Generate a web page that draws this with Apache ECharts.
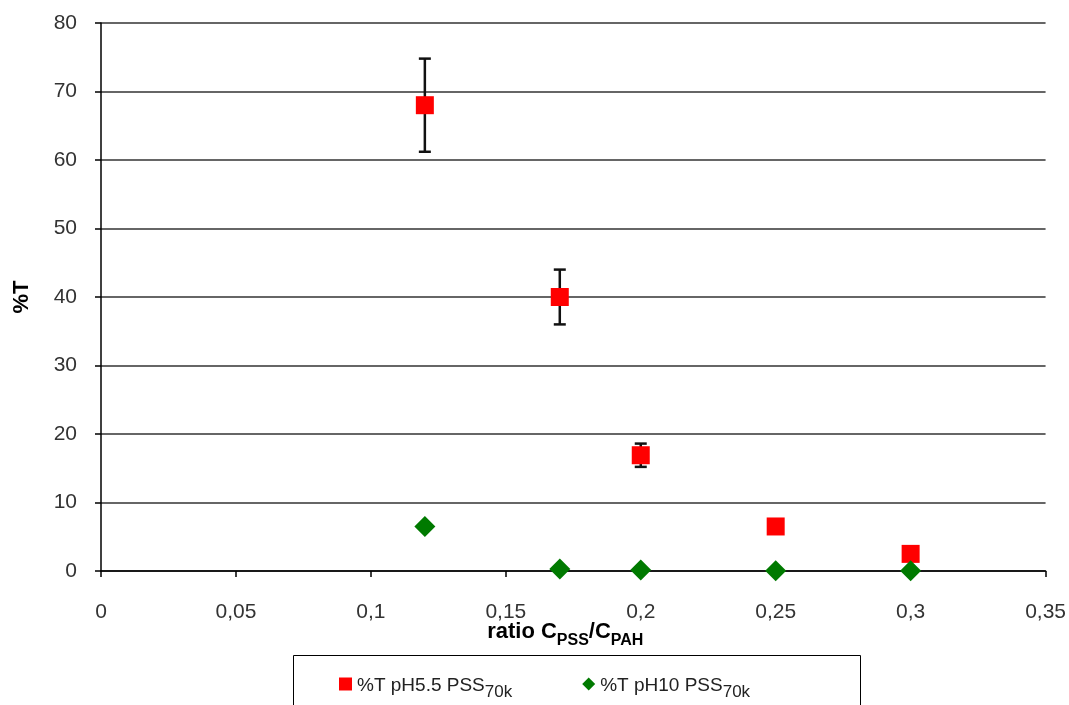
<!DOCTYPE html>
<html>
<head>
<meta charset="utf-8">
<script src="https://cdn.jsdelivr.net/npm/echarts@6/dist/echarts.min.js"></script>
<style>
    html, body { margin: 0; padding: 0; background: #fff; }
    #chart { width: 1069px; height: 705px; }
</style>
</head>
<body>
<div id="chart"></div>
<script>
// ratio C_PSS / C_PAH
var ratios = [0.12, 0.17, 0.2, 0.25, 0.3];
// %T pH5.5 PSS70k
var tAcid = [68, 40, 16.9, 6.5, 2.5];
var tAcidErr = [6.8, 4, 1.7, 0, 0];
// %T pH10 PSS70k
var tBase = [6.5, 0.3, 0.15, 0.05, 0.05];

var xTicks = { min: 0, max: 0.35, step: 0.05 };
var yTicks = { min: 0, max: 80, step: 10 };

var font = '"Liberation Sans", Arial, sans-serif';

function pairs(xs, ys) {
    return xs.map(function (x, i) { return [x, ys[i]]; });
}

var errData = ratios.map(function (x, i) {
    return [x, tAcid[i] - tAcidErr[i], tAcid[i] + tAcidErr[i]];
}).filter(function (d) { return d[2] > d[1]; });

var chart = echarts.init(document.getElementById('chart'));

chart.setOption({
    animation: false,
    textStyle: { fontFamily: font },
    grid: {
        left: 101,
        right: 23,
        top: 23,
        bottom: 134,
        containLabel: false
    },
    xAxis: {
        type: 'value',
        min: xTicks.min,
        max: xTicks.max,
        interval: xTicks.step,
        name: '{b|ratio C}{s|PSS}{b|/C}{s|PAH}',
        nameLocation: 'middle',
        nameGap: 48,
        nameMoveOverlap: false,
        nameTextStyle: {
            padding: [0, 16, 0, 0],
            rich: {
                b: { fontFamily: font, fontSize: 22, fontWeight: 'bold', color: '#000', lineHeight: 24, verticalAlign: 'bottom' },
                s: { fontFamily: font, fontSize: 16, fontWeight: 'bold', color: '#000', lineHeight: 24, verticalAlign: 'bottom', padding: [0, 0, -6, 0] }
            }
        },
        axisLine: { show: true, lineStyle: { color: '#000', width: 1.5 } },
        axisTick: { show: true, inside: false, length: 6, lineStyle: { color: '#000', width: 1.5 } },
        axisLabel: {
            margin: 31,
            fontSize: 21,
            color: '#333',
            fontFamily: font,
            formatter: function (v) { return String(+v.toFixed(2)).replace('.', ','); }
        },
        splitLine: { show: false }
    },
    yAxis: {
        type: 'value',
        min: yTicks.min,
        max: yTicks.max,
        interval: yTicks.step,
        name: '%T',
        nameLocation: 'middle',
        nameGap: 68,
        nameRotate: 90,
        nameTextStyle: { fontFamily: font, fontSize: 22, fontWeight: 'bold', color: '#000' },
        axisLine: { show: true, lineStyle: { color: '#000', width: 1.5 } },
        axisTick: { show: true, inside: false, length: 6, lineStyle: { color: '#000', width: 1.5 } },
        axisLabel: { margin: 24, fontSize: 21, color: '#333', fontFamily: font },
        splitLine: { show: true, lineStyle: { color: '#333', width: 1.5 } }
    },
    legend: {
        left: 339,
        top: 676,
        itemGap: 70,
        itemWidth: 13,
        itemHeight: 13,
        padding: 0,
        textStyle: {
            fontFamily: font,
            fontSize: 19,
            color: '#222',
            rich: {
                t: { fontFamily: font, fontSize: 19, color: '#222', verticalAlign: 'bottom', lineHeight: 22 },
                s: { fontFamily: font, fontSize: 17, color: '#222', verticalAlign: 'bottom', lineHeight: 22, padding: [0, 0, -6, 0] }
            }
        },
        formatter: function (name) {
            var parts = name.split('|');
            return '{t|' + parts[0] + '}{s|' + parts[1] + '}';
        },
        data: [
            { name: '%T pH5.5 PSS|70k', icon: 'rect' },
            { name: '%T pH10 PSS|70k', icon: 'diamond' }
        ]
    },
    graphic: [{
        type: 'rect',
        shape: { x: 293.5, y: 655.5, width: 567, height: 80 },
        style: { fill: 'none', stroke: '#000', lineWidth: 1 },
        silent: true
    }],
    series: [
        {
            type: 'custom',
            name: 'err',
            data: errData,
            z: 1,
            renderItem: function (params, api) {
                var lo = api.coord([api.value(0), api.value(1)]);
                var hi = api.coord([api.value(0), api.value(2)]);
                var cap = 6;
                var st = { stroke: '#111', lineWidth: 2.5 };
                return {
                    type: 'group',
                    children: [
                        { type: 'line', shape: { x1: lo[0], y1: lo[1], x2: hi[0], y2: hi[1] }, style: st },
                        { type: 'line', shape: { x1: hi[0] - cap, y1: hi[1], x2: hi[0] + cap, y2: hi[1] }, style: st },
                        { type: 'line', shape: { x1: lo[0] - cap, y1: lo[1], x2: lo[0] + cap, y2: lo[1] }, style: st }
                    ]
                };
            }
        },
        {
            type: 'scatter',
            name: '%T pH5.5 PSS|70k',
            data: pairs(ratios, tAcid),
            symbol: 'rect',
            symbolSize: 18,
            itemStyle: { color: '#ff0000', opacity: 1 },
            z: 3
        },
        {
            type: 'scatter',
            name: '%T pH10 PSS|70k',
            data: pairs(ratios, tBase),
            symbol: 'diamond',
            symbolSize: 21,
            itemStyle: { color: '#007a00', opacity: 1 },
            z: 3
        }
    ]
});
</script>
</body>
</html>
